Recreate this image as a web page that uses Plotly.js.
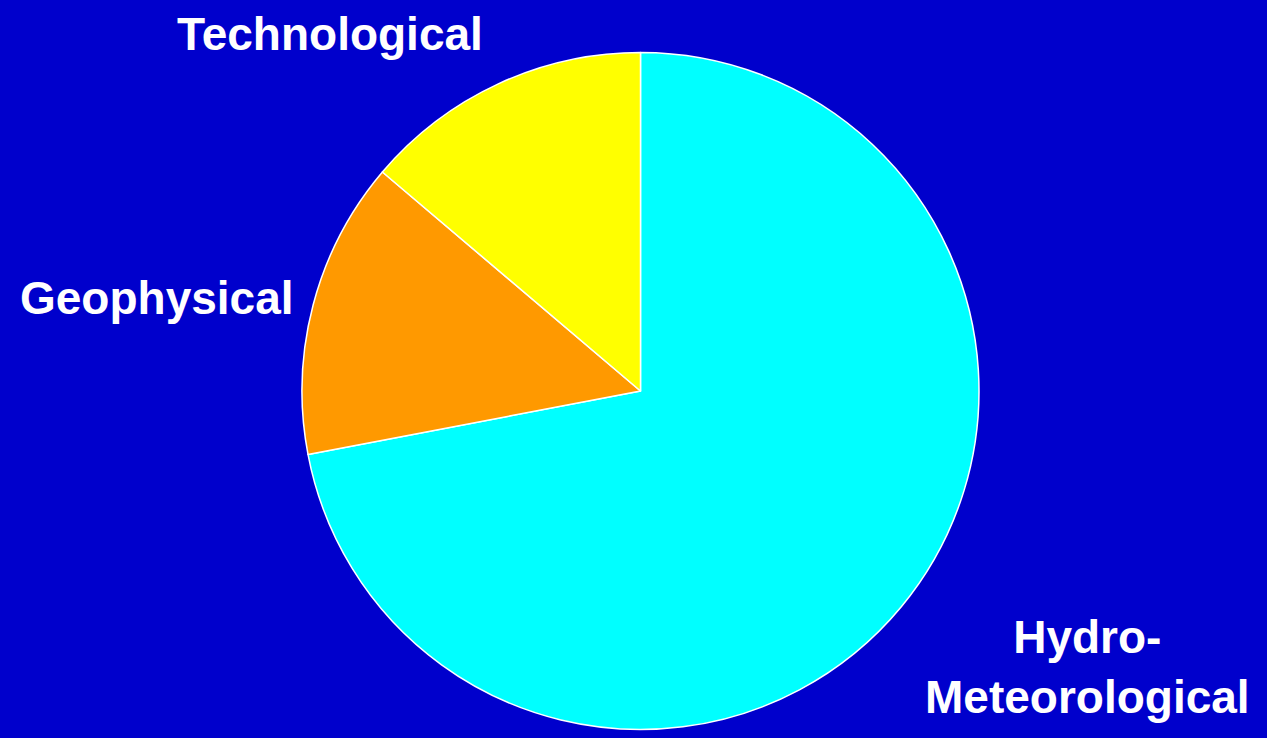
<!DOCTYPE html>
<html>
<head>
<meta charset="utf-8">
<script src="https://cdn.plot.ly/plotly-3.0.1.min.js"></script>
<style>html,body{margin:0;padding:0;background:#0000CC;}#chart{width:1267px;height:738px;}</style>
</head>
<body>
<div id="chart"></div>
<script>
const categories = ["Hydro-Meteorological", "Geophysical", "Technological"];
const values = [72, 14.2, 13.8];
const colors = ["#00FFFF", "#FF9900", "#FFFF00"];
const labelTexts = ["Hydro-<br>Meteorological", "Geophysical", "Technological"];

const W = 1267, H = 738;
const trace = {
  type: "pie",
  labels: categories,
  values: values,
  sort: false,
  direction: "clockwise",
  rotation: 0,
  textinfo: "none",
  hoverinfo: "label+percent",
  marker: {colors: colors, line: {color: "#FFFFFF", width: 1.5}},
  domain: {x: [302 / W, 979 / W], y: [8 / H, 686 / H]},
  showlegend: false
};

const font = {family: "Arial, 'Liberation Sans', sans-serif", size: 46, color: "#FFFFFF", weight: "bold"};
const annotations = [
  {text: labelTexts[2], x: 330 / W, y: 1 - 34 / H},
  {text: labelTexts[1], x: 157 / W, y: 1 - 298 / H},
  {text: labelTexts[0], x: 1087 / W, y: 1 - 667 / H}
].map(a => Object.assign({xref: "paper", yref: "paper", xanchor: "center", yanchor: "middle", showarrow: false, font: font, align: "center"}, a));

const layout = {
  width: W, height: H,
  margin: {l: 0, r: 0, t: 0, b: 0},
  paper_bgcolor: "#0000CC",
  plot_bgcolor: "#0000CC",
  annotations: annotations
};
Plotly.newPlot("chart", [trace], layout, {displayModeBar: false, staticPlot: true});
</script>
</body>
</html>
